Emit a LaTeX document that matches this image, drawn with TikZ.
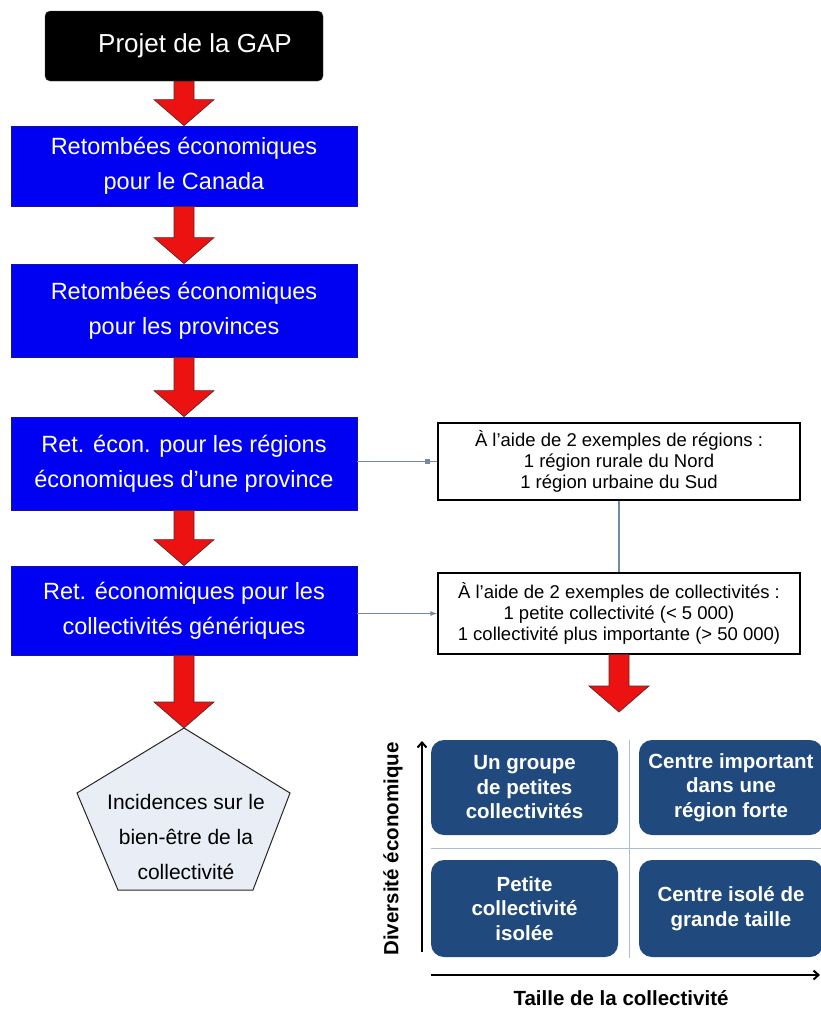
\documentclass[tikz,border=0pt]{standalone}
\usepackage{fontspec}
\setmainfont{Liberation Sans}
\usetikzlibrary{calc,arrows.meta}
\definecolor{boxblue}{RGB}{0,0,242}
\definecolor{boxedge}{RGB}{20,20,150}
\definecolor{arrred}{RGB}{236,18,18}
\definecolor{arredge}{RGB}{90,40,40}
\definecolor{quadblue}{RGB}{32,73,125}
\definecolor{linkgray}{RGB}{115,138,165}
\definecolor{divgray}{RGB}{170,190,210}
\definecolor{pentfill}{RGB}{233,237,245}
\newcommand{\fatarrow}[2]{%
  \draw[fatarr] let \p1=(#1), \p2=(#2) in
    (\x1-10pt,\y1) -- (\x1+10pt,\y1) -- (\x1+10pt,\y2+26pt) -- (\x1+30pt,\y2+26pt)
    -- (\x1,\y2) -- (\x1-30pt,\y2+26pt) -- (\x1-10pt,\y2+26pt) -- cycle;}
\begin{document}
\begin{tikzpicture}[x=1pt,y=-1pt,
  fatarr/.style={fill=arrred, draw=arredge, line width=0.7pt, line join=miter},
  bluebox/.style={draw=boxedge, line width=0.8pt, fill=boxblue, text=white, minimum width=346pt, inner sep=0pt, align=center, font=\fontsize{23.5}{35}\selectfont},
  blackbox/.style={fill=black, draw=gray!60!black, rounded corners=5pt, text=white, minimum width=278pt, minimum height=70pt, inner sep=0pt, font=\fontsize{26}{30}\selectfont},
  notebox/.style={draw=black, line width=1.1pt, fill=white, minimum width=362pt, inner sep=0pt, align=center, font=\fontsize{18.5}{21}\selectfont},
  quadbox/.style={fill=quadblue, rounded corners=13pt, text=white, inner sep=0pt, align=center, font=\bfseries\fontsize{20.5}{24.5}\selectfont},
  link/.style={draw=linkgray, line width=1.2pt},
  sqmark/.style={fill=linkgray, minimum size=5pt, inner sep=0pt},
  axis/.style={draw=black, line width=2pt, -{Straight Barb[length=5pt,width=9pt]}},
  axlabel/.style={font=\bfseries\fontsize{20.5}{24}\selectfont},
  pent/.style={fill=pentfill, draw=gray!30!black, line width=1pt, line join=miter}
]
\useasboundingbox (0,0) rectangle (821,1015);
\fill[white] (0,0) rectangle (821,1015);

% main chain
\node[blackbox] (gap) at (184,46) {\hspace*{22pt}Projet de la GAP};
\node[bluebox, minimum height=80pt] (b1) at (184,166) {Retombées économiques\\pour le Canada};
\node[bluebox, minimum height=93pt] (b2) at (184,310.5) {Retombées économiques\\pour les provinces};
\node[bluebox, minimum height=93pt] (b3) at (184,463.5) {Ret. écon. pour les régions\\économiques d’une province};
\node[bluebox, minimum height=89pt] (b4) at (184,610.5) {Ret. économiques pour les\\collectivités génériques};

% pentagon
\draw[pent] (184,728) -- (290,793) -- (253,890) -- (118,890) -- (77,793) -- cycle;
\coordinate (ptop) at (184,728);
\node[align=center, font=\fontsize{21}{35}\selectfont] (pentxt) at (186,837) {Incidences sur le\\bien-être de la\\collectivité};

\fatarrow{gap.south}{b1.north}
\fatarrow{b1.south}{b2.north}
\fatarrow{b2.south}{b3.north}
\fatarrow{b3.south}{b4.north}
\fatarrow{b4.south}{ptop}

% note boxes
\node[notebox, minimum height=77pt] (na) at (619,461.5) {À l’aide de 2 exemples de régions :\\1 région rurale du Nord\\1 région urbaine du Sud};
\node[notebox, minimum height=81pt] (nb) at (619,613.5) {À l’aide de 2 exemples de collectivités :\\1 petite collectivité (< 5 000)\\1 collectivité plus importante (> 50 000)};

\draw[link] (b3.east |- na.west) -- node[pos=0.88, sqmark] (m1) {} (na.west);
\draw[link, -{Latex[length=7pt,width=5pt]}] (b4.east |- nb.west) -- (nb.west);
\draw[link] (na.south) -- (nb.north);

\coordinate (qtop) at (619,712);
\fatarrow{nb.south}{qtop}

% quadrant
\draw[divgray, line width=1pt] (629,740) -- (629,958);
\draw[divgray, line width=1pt] (431,848) -- (821,848);
\node[quadbox, minimum width=187pt, minimum height=95pt] (q1) at (524.5,787.5) {Un groupe\\de petites\\collectivités};
\node[quadbox, minimum width=184pt, minimum height=95pt] (q2) at (731,787.5) {Centre important\\dans une\\région forte};
\node[quadbox, minimum width=187pt, minimum height=97pt] (q3) at (524.5,908.5) {Petite\\collectivité\\isolée};
\node[quadbox, minimum width=184pt, minimum height=97pt] (q4) at (731,908.5) {Centre isolé de\\grande taille};

\coordinate (yb) at (422,952);
\coordinate (yt) at (422,741);
\coordinate (xl) at (431,975);
\coordinate (xr) at (820,975);
\draw[axis] (yb) -- (yt);
\draw[axis] (xl) -- (xr);
\node[axlabel, rotate=90] (ylab) at (393,849) {Diversité économique};
\node[axlabel] (xlab) at (621,998) {Taille de la collectivité};
\end{tikzpicture}
\end{document}
